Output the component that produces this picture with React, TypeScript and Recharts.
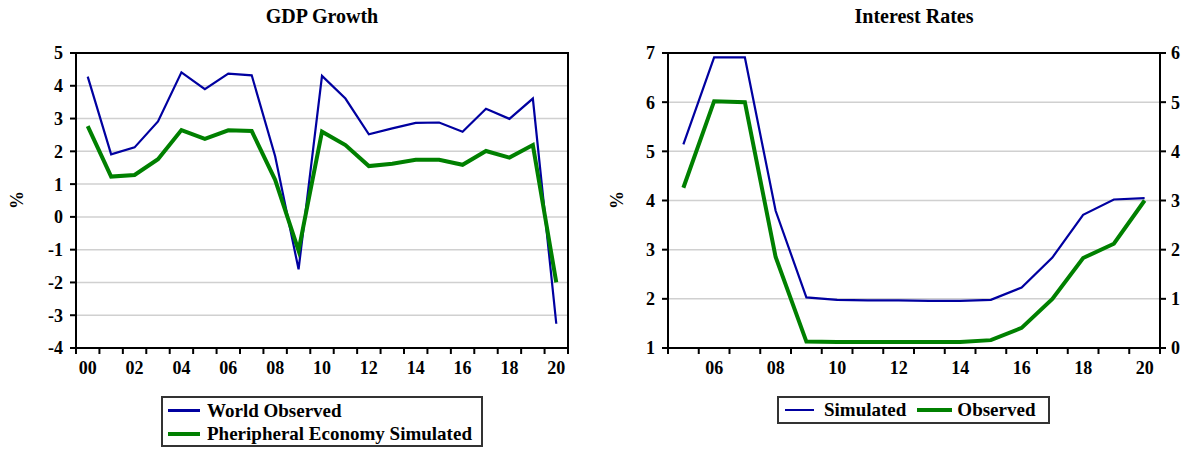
import React from "react";
import { CartesianGrid, Line, LineChart, XAxis, YAxis } from "recharts";

const gdpYears = [
  2000, 2001, 2002, 2003, 2004, 2005, 2006, 2007, 2008, 2009, 2010, 2011, 2012,
  2013, 2014, 2015, 2016, 2017, 2018, 2019, 2020,
];
const worldObserved = [
  4.28, 1.91, 2.12, 2.91, 4.41, 3.9, 4.37, 4.32, 1.85, -1.6, 4.3, 3.61, 2.52,
  2.7, 2.87, 2.88, 2.6, 3.3, 2.99, 3.61, -3.26,
];
const peripheralSimulated = [
  2.77, 1.23, 1.28, 1.76, 2.65, 2.38, 2.64, 2.62, 1.13, -1.03, 2.6, 2.19, 1.55,
  1.62, 1.74, 1.74, 1.59, 2.01, 1.81, 2.19, -2.0,
];
const gdpYTicks = [-4, -3, -2, -1, 0, 1, 2, 3, 4, 5];

const rateYears = [
  2005, 2006, 2007, 2008, 2009, 2010, 2011, 2012, 2013, 2014, 2015, 2016, 2017,
  2018, 2019, 2020,
];
const rateSimulated = [
  5.14, 6.91, 6.91, 3.79, 2.03, 1.98, 1.97, 1.97, 1.96, 1.96, 1.98, 2.23, 2.84,
  3.71, 4.02, 4.05,
];
const rateObserved = [
  3.26, 5.02, 5.0, 1.85, 0.13, 0.12, 0.12, 0.12, 0.12, 0.12, 0.16, 0.41, 1.0,
  1.83, 2.12, 3.0,
];
const rateLeftTicks = [1, 2, 3, 4, 5, 6, 7];
const rateRightTicks = [0, 1, 2, 3, 4, 5, 6];

const BLUE = "#0000a0";
const GREEN = "#008000";
const GRID = "#d0d0d0";
const FONT = '"Liberation Serif", "Times New Roman", serif';

const tickStyle = { fill: "#000", fontSize: 18, fontWeight: 700, fontFamily: FONT };

// year labels sit in the middle of each year, tick marks on the boundaries
function yearLabel(year: number) {
  return year % 2 === 0 ? String(year).slice(2) : "";
}

function boundaryTicks(n: number) {
  const out: number[] = [];
  for (let i = 0; i <= n * 2; i++) out.push(i / 2 - 0.5);
  return out;
}

function YearTick(props: any) {
  const { x, y, payload, years } = props;
  const v = payload.value as number;
  if (Number.isInteger(v)) {
    const label = yearLabel(years[v]);
    if (!label) return <g />;
    return (
      <text x={x} y={y} dy="0.71em" textAnchor="middle" {...tickStyle}>
        {label}
      </text>
    );
  }
  return <line x1={x} x2={x} y1={y - 13} y2={y - 7} stroke="#000" strokeWidth={2} />;
}

function Title({ text, cx }: { text: string; cx: number }) {
  return (
    <div
      style={{
        position: "absolute",
        top: 6,
        left: cx - 150,
        width: 300,
        textAlign: "center",
        fontFamily: FONT,
        fontWeight: 700,
        fontSize: 20,
        lineHeight: "20px",
      }}
    >
      {text}
    </div>
  );
}

function Percent({ cx }: { cx: number }) {
  return (
    <div
      style={{
        position: "absolute",
        left: cx - 20,
        top: 190,
        width: 40,
        height: 20,
        lineHeight: "20px",
        textAlign: "center",
        transform: "rotate(-90deg)",
        fontFamily: FONT,
        fontWeight: 700,
        fontSize: 18,
      }}
    >
      %
    </div>
  );
}

// box drawn around a plot area
function Frame({ left, right }: { left: number; right: number }) {
  return (
    <div
      style={{
        position: "absolute",
        left: left - 1,
        top: 52,
        width: right - left + 2,
        height: 297,
        boxSizing: "border-box",
        border: "2px solid #000",
        pointerEvents: "none",
        zIndex: 5,
      }}
    />
  );
}

function Swatch({ color, width, thick }: { color: string; width: number; thick: number }) {
  return <span style={{ display: "inline-block", width, height: thick, background: color }} />;
}

const legendText = { fontFamily: FONT, fontWeight: 700, fontSize: 19 };
const frame = { stroke: "#000", strokeWidth: 2 };

export default function App() {
  const gdpData = gdpYears.map((year, i) => ({
    x: i,
    year,
    world: worldObserved[i],
    peripheral: peripheralSimulated[i],
  }));
  const rateData = rateYears.map((year, i) => ({
    x: i,
    year,
    simulated: rateSimulated[i],
    observed: rateObserved[i],
  }));

  return (
    <div
      style={{
        position: "fixed",
        left: 0,
        top: 0,
        width: 1185,
        height: 449,
        background: "#fff",
        overflow: "hidden",
      }}
    >
      <Title text="GDP Growth" cx={322} />
      <Title text="Interest Rates" cx={914} />
      <Percent cx={17} />
      <Percent cx={617} />

      <div style={{ position: "absolute", left: 0, top: 0 }}>
        <LineChart
          width={600}
          height={449}
          data={gdpData}
          margin={{ top: 53, right: 32, left: 0, bottom: 71 }}
        >
          <CartesianGrid vertical={false} stroke={GRID} strokeWidth={1.5} />
          <XAxis
            dataKey="x"
            type="number"
            domain={[-0.5, gdpYears.length - 0.5]}
            ticks={boundaryTicks(gdpYears.length)}
            interval={0}
            height={30}
            tickLine={false}
            tickSize={6}
            tickMargin={7}
            axisLine={frame}
            tick={(p: any) => <YearTick {...p} years={gdpYears} />}
          />
          <YAxis
            width={76}
            domain={[-4, 5]}
            ticks={gdpYTicks}
            interval={0}
            tickSize={6}
            tickMargin={7}
            tick={tickStyle}
            tickLine={frame}
            axisLine={frame}
          />
          <Line
            type="linear"
            dataKey="world"
            stroke={BLUE}
            strokeWidth={2.2}
            dot={false}
            isAnimationActive={false}
          />
          <Line
            type="linear"
            dataKey="peripheral"
            stroke={GREEN}
            strokeWidth={4}
            dot={false}
            isAnimationActive={false}
          />
        </LineChart>
      </div>

      <div style={{ position: "absolute", left: 592, top: 0 }}>
        <LineChart
          width={593}
          height={449}
          data={rateData}
          margin={{ top: 53, right: 0, left: 0, bottom: 71 }}
        >
          <CartesianGrid vertical={false} stroke={GRID} strokeWidth={1.5} yAxisId="left" />
          <XAxis
            dataKey="x"
            type="number"
            domain={[-0.5, rateYears.length - 0.5]}
            ticks={boundaryTicks(rateYears.length)}
            interval={0}
            height={30}
            tickLine={false}
            tickSize={6}
            tickMargin={7}
            axisLine={frame}
            tick={(p: any) => <YearTick {...p} years={rateYears} />}
          />
          <YAxis
            yAxisId="left"
            width={76}
            domain={[1, 7]}
            ticks={rateLeftTicks}
            interval={0}
            tickSize={6}
            tickMargin={7}
            tick={tickStyle}
            tickLine={frame}
            axisLine={frame}
          />
          <YAxis
            yAxisId="right"
            orientation="right"
            width={25}
            domain={[0, 6]}
            ticks={rateRightTicks}
            interval={0}
            tickSize={6}
            tickMargin={5}
            tick={tickStyle}
            tickLine={frame}
            axisLine={frame}
          />
          <Line
            yAxisId="left"
            type="linear"
            dataKey="simulated"
            stroke={BLUE}
            strokeWidth={2.2}
            dot={false}
            isAnimationActive={false}
          />
          <Line
            yAxisId="right"
            type="linear"
            dataKey="observed"
            stroke={GREEN}
            strokeWidth={4}
            dot={false}
            isAnimationActive={false}
          />
        </LineChart>
      </div>

      <Frame left={76} right={568} />
      <Frame left={668} right={1160} />

      {/* legend, GDP panel */}
      <div
        style={{
          position: "absolute",
          left: 161,
          top: 396,
          width: 322,
          height: 51,
          boxSizing: "border-box",
          border: "2px solid #333",
          paddingTop: 1,
          paddingLeft: 5,
        }}
      >
        {[
          { name: "World Observed", color: BLUE, thick: 2.5 },
          { name: "Pheripheral Economy Simulated", color: GREEN, thick: 4 },
        ].map((it) => (
          <div
            key={it.name}
            style={{ display: "flex", alignItems: "center", height: 23, whiteSpace: "nowrap" }}
          >
            <Swatch color={it.color} width={32} thick={it.thick} />
            <span style={{ ...legendText, marginLeft: 7, lineHeight: "23px" }}>{it.name}</span>
          </div>
        ))}
      </div>

      {/* legend, interest rate panel */}
      <div
        style={{
          position: "absolute",
          left: 777,
          top: 396,
          width: 273,
          height: 28,
          boxSizing: "border-box",
          border: "2px solid #333",
          paddingLeft: 6,
          display: "flex",
          alignItems: "center",
          whiteSpace: "nowrap",
        }}
      >
        <Swatch color={BLUE} width={29} thick={2.5} />
        <span style={{ ...legendText, marginLeft: 10 }}>Simulated</span>
        <span style={{ marginLeft: 11, display: "inline-flex", alignItems: "center" }}>
          <Swatch color={GREEN} width={35} thick={4} />
        </span>
        <span style={{ ...legendText, marginLeft: 5 }}>Observed</span>
      </div>
    </div>
  );
}
